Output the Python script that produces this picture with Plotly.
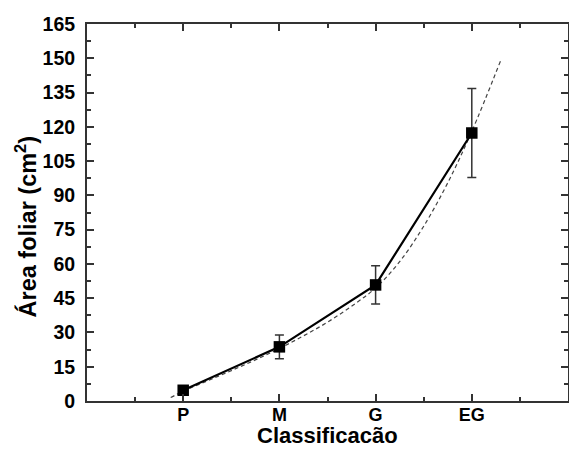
import plotly.graph_objects as go

categories = ["P", "M", "G", "EG"]
cat_pos = [1, 2, 3, 4]
area_mean = [4.7, 23.7, 50.8, 117.3]
area_err = [1.5, 5.2, 8.4, 19.5]

fit_x = [0.87, 1.0, 1.25, 1.5, 1.75, 2.0, 2.25, 2.5, 2.75, 3.0, 3.25, 3.5, 3.75, 4.0, 4.3]
fit_y = [1.5, 4.3, 8.8, 13.3, 18.0, 23.0, 28.5, 34.5, 41.5, 49.5, 61.0, 76.5, 95.5, 118.0, 149.0]

y_ticks = list(range(0, 166, 15))

axis_color = "#333333"
font_family = "Liberation Sans, Arial, sans-serif"

fig = go.Figure()
fig.add_trace(go.Scatter(
    x=fit_x, y=fit_y, mode="lines", line_shape="spline",
    line=dict(color="#444444", width=1.2, dash="4px,3px"),
    showlegend=False, hoverinfo="skip"))
fig.add_trace(go.Scatter(
    x=cat_pos, y=area_mean, mode="lines+markers",
    line=dict(color="black", width=2.2),
    marker=dict(symbol="square", size=11.5, color="black"),
    error_y=dict(type="data", array=area_err, visible=True,
                 color="#333333", thickness=1.5, width=4.5),
    showlegend=False))

fig.update_layout(
    width=569, height=450,
    margin=dict(l=87, r=1, t=24, b=49, autoexpand=False),
    paper_bgcolor="white", plot_bgcolor="white",
    font=dict(family=font_family, color="black"),
    annotations=[
        dict(text="Área foliar (cm<sup>2</sup>)", textangle=-90, showarrow=False,
             xref="paper", yref="paper", x=-0.126, y=0.464,
             xanchor="center", yanchor="middle",
             font=dict(size=23.5, family=font_family, weight="bold", color="black")),
        dict(text="Classificacão", showarrow=False,
             xref="paper", yref="paper", x=0.5, y=-0.13,
             xanchor="center", yanchor="bottom",
             font=dict(size=22, family=font_family, weight="bold", color="black")),
    ],
)
fig.update_xaxes(
    range=[0, 5], tickmode="array", tickvals=cat_pos, ticktext=categories,
    showgrid=False, zeroline=False,
    showline=True, linecolor=axis_color, linewidth=2, mirror="allticks",
    ticks="inside", ticklen=7, tickwidth=1.5, tickcolor=axis_color,
    tickfont=dict(size=18, family=font_family, weight="bold"),
    ticklabelstandoff=-4,
    minor=dict(tickvals=[0.5, 1.5, 2.5, 3.5, 4.5], ticks="inside", ticklen=4,
               tickwidth=1.5, tickcolor=axis_color, showgrid=False),
)
fig.update_yaxes(
    range=[0, 165], tickmode="array", tickvals=y_ticks,
    showgrid=False, zeroline=False,
    showline=True, linecolor=axis_color, linewidth=2, mirror="allticks",
    ticks="inside", ticklen=7, tickwidth=1.5, tickcolor=axis_color,
    tickfont=dict(size=19.5, family=font_family, weight="bold"),
    ticklabelstandoff=6,
    minor=dict(tickvals=[v + 7.5 for v in y_ticks[:-1]], ticks="inside", ticklen=4,
               tickwidth=1.5, tickcolor=axis_color, showgrid=False),
)

fig.write_html("out.html", config={"displayModeBar": False},
               post_script="document.body.style.margin='0';document.body.style.overflow='hidden';")
